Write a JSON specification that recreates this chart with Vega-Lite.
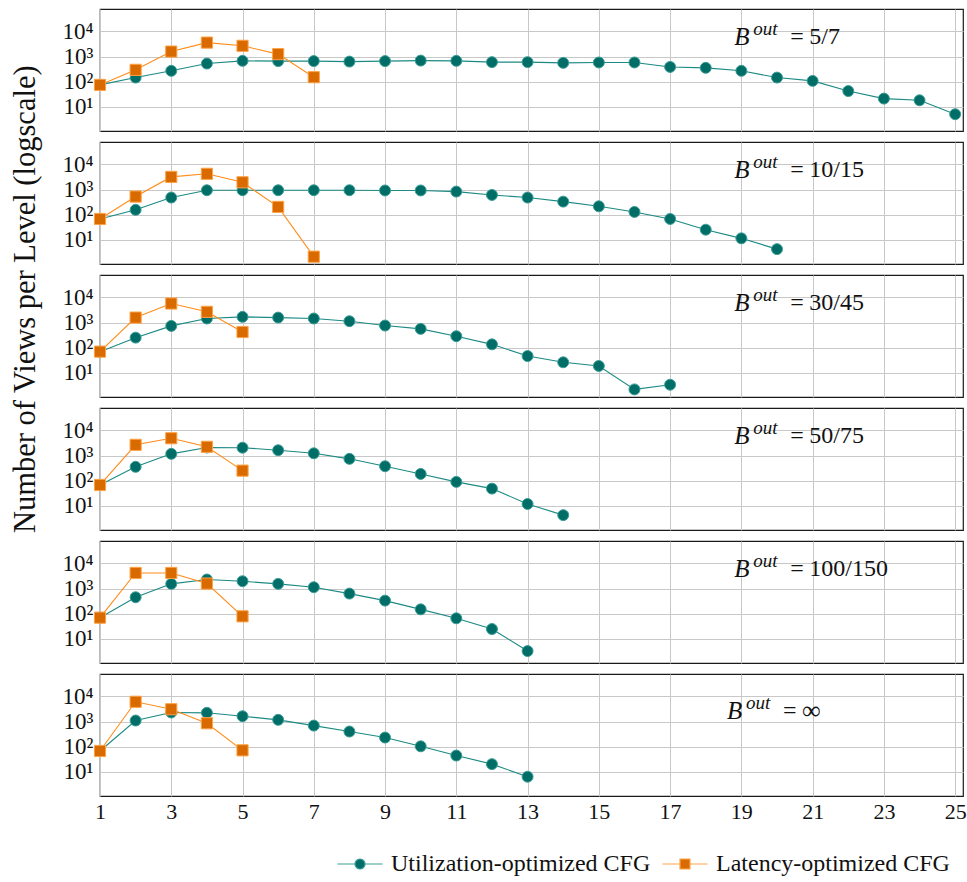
{
  "$schema": "https://vega.github.io/schema/vega-lite/v6.json",
  "padding": {"left": 11, "top": 8, "right": 4, "bottom": 4},
  "bounds": "flush",
  "title": {"text": "Number of Views per Level (logscale)", "orient": "left", "anchor": "middle", "font": "Liberation Serif", "fontSize": 30.5, "fontWeight": "normal", "color": "#111111", "offset": 20, "dx": 143},
  "datasets": {
    "views": [
      {"panel": "5/7", "series": "Utilization-optimized CFG", "level": 1, "views": 74},
      {"panel": "5/7", "series": "Utilization-optimized CFG", "level": 2, "views": 145},
      {"panel": "5/7", "series": "Utilization-optimized CFG", "level": 3, "views": 270},
      {"panel": "5/7", "series": "Utilization-optimized CFG", "level": 4, "views": 525},
      {"panel": "5/7", "series": "Utilization-optimized CFG", "level": 5, "views": 675},
      {"panel": "5/7", "series": "Utilization-optimized CFG", "level": 6, "views": 660},
      {"panel": "5/7", "series": "Utilization-optimized CFG", "level": 7, "views": 660},
      {"panel": "5/7", "series": "Utilization-optimized CFG", "level": 8, "views": 630},
      {"panel": "5/7", "series": "Utilization-optimized CFG", "level": 9, "views": 660},
      {"panel": "5/7", "series": "Utilization-optimized CFG", "level": 10, "views": 690},
      {"panel": "5/7", "series": "Utilization-optimized CFG", "level": 11, "views": 675},
      {"panel": "5/7", "series": "Utilization-optimized CFG", "level": 12, "views": 600},
      {"panel": "5/7", "series": "Utilization-optimized CFG", "level": 13, "views": 600},
      {"panel": "5/7", "series": "Utilization-optimized CFG", "level": 14, "views": 560},
      {"panel": "5/7", "series": "Utilization-optimized CFG", "level": 15, "views": 580},
      {"panel": "5/7", "series": "Utilization-optimized CFG", "level": 16, "views": 580},
      {"panel": "5/7", "series": "Utilization-optimized CFG", "level": 17, "views": 385},
      {"panel": "5/7", "series": "Utilization-optimized CFG", "level": 18, "views": 355},
      {"panel": "5/7", "series": "Utilization-optimized CFG", "level": 19, "views": 270},
      {"panel": "5/7", "series": "Utilization-optimized CFG", "level": 20, "views": 145},
      {"panel": "5/7", "series": "Utilization-optimized CFG", "level": 21, "views": 107},
      {"panel": "5/7", "series": "Utilization-optimized CFG", "level": 22, "views": 42},
      {"panel": "5/7", "series": "Utilization-optimized CFG", "level": 23, "views": 21},
      {"panel": "5/7", "series": "Utilization-optimized CFG", "level": 24, "views": 18},
      {"panel": "5/7", "series": "Utilization-optimized CFG", "level": 25, "views": 5},
      {"panel": "5/7", "series": "Latency-optimized CFG", "level": 1, "views": 74},
      {"panel": "5/7", "series": "Latency-optimized CFG", "level": 2, "views": 295},
      {"panel": "5/7", "series": "Latency-optimized CFG", "level": 3, "views": 1580},
      {"panel": "5/7", "series": "Latency-optimized CFG", "level": 4, "views": 3600},
      {"panel": "5/7", "series": "Latency-optimized CFG", "level": 5, "views": 2680},
      {"panel": "5/7", "series": "Latency-optimized CFG", "level": 6, "views": 1250},
      {"panel": "5/7", "series": "Latency-optimized CFG", "level": 7, "views": 150},

      {"panel": "10/15", "series": "Utilization-optimized CFG", "level": 1, "views": 67},
      {"panel": "10/15", "series": "Utilization-optimized CFG", "level": 2, "views": 155},
      {"panel": "10/15", "series": "Utilization-optimized CFG", "level": 3, "views": 480},
      {"panel": "10/15", "series": "Utilization-optimized CFG", "level": 4, "views": 940},
      {"panel": "10/15", "series": "Utilization-optimized CFG", "level": 5, "views": 940},
      {"panel": "10/15", "series": "Utilization-optimized CFG", "level": 6, "views": 940},
      {"panel": "10/15", "series": "Utilization-optimized CFG", "level": 7, "views": 940},
      {"panel": "10/15", "series": "Utilization-optimized CFG", "level": 8, "views": 940},
      {"panel": "10/15", "series": "Utilization-optimized CFG", "level": 9, "views": 920},
      {"panel": "10/15", "series": "Utilization-optimized CFG", "level": 10, "views": 920},
      {"panel": "10/15", "series": "Utilization-optimized CFG", "level": 11, "views": 830},
      {"panel": "10/15", "series": "Utilization-optimized CFG", "level": 12, "views": 610},
      {"panel": "10/15", "series": "Utilization-optimized CFG", "level": 13, "views": 480},
      {"panel": "10/15", "series": "Utilization-optimized CFG", "level": 14, "views": 330},
      {"panel": "10/15", "series": "Utilization-optimized CFG", "level": 15, "views": 215},
      {"panel": "10/15", "series": "Utilization-optimized CFG", "level": 16, "views": 128},
      {"panel": "10/15", "series": "Utilization-optimized CFG", "level": 17, "views": 67},
      {"panel": "10/15", "series": "Utilization-optimized CFG", "level": 18, "views": 25},
      {"panel": "10/15", "series": "Utilization-optimized CFG", "level": 19, "views": 11.3},
      {"panel": "10/15", "series": "Utilization-optimized CFG", "level": 20, "views": 4.2},
      {"panel": "10/15", "series": "Latency-optimized CFG", "level": 1, "views": 67},
      {"panel": "10/15", "series": "Latency-optimized CFG", "level": 2, "views": 525},
      {"panel": "10/15", "series": "Latency-optimized CFG", "level": 3, "views": 3200},
      {"panel": "10/15", "series": "Latency-optimized CFG", "level": 4, "views": 4250},
      {"panel": "10/15", "series": "Latency-optimized CFG", "level": 5, "views": 1950},
      {"panel": "10/15", "series": "Latency-optimized CFG", "level": 6, "views": 203},
      {"panel": "10/15", "series": "Latency-optimized CFG", "level": 7, "views": 2.1},

      {"panel": "30/45", "series": "Utilization-optimized CFG", "level": 1, "views": 69},
      {"panel": "30/45", "series": "Utilization-optimized CFG", "level": 2, "views": 250},
      {"panel": "30/45", "series": "Utilization-optimized CFG", "level": 3, "views": 735},
      {"panel": "30/45", "series": "Utilization-optimized CFG", "level": 4, "views": 1450},
      {"panel": "30/45", "series": "Utilization-optimized CFG", "level": 5, "views": 1690},
      {"panel": "30/45", "series": "Utilization-optimized CFG", "level": 6, "views": 1580},
      {"panel": "30/45", "series": "Utilization-optimized CFG", "level": 7, "views": 1450},
      {"panel": "30/45", "series": "Utilization-optimized CFG", "level": 8, "views": 1130},
      {"panel": "30/45", "series": "Utilization-optimized CFG", "level": 9, "views": 760},
      {"panel": "30/45", "series": "Utilization-optimized CFG", "level": 10, "views": 560},
      {"panel": "30/45", "series": "Utilization-optimized CFG", "level": 11, "views": 285},
      {"panel": "30/45", "series": "Utilization-optimized CFG", "level": 12, "views": 135},
      {"panel": "30/45", "series": "Utilization-optimized CFG", "level": 13, "views": 46},
      {"panel": "30/45", "series": "Utilization-optimized CFG", "level": 14, "views": 26},
      {"panel": "30/45", "series": "Utilization-optimized CFG", "level": 15, "views": 18.5},
      {"panel": "30/45", "series": "Utilization-optimized CFG", "level": 16, "views": 2.15},
      {"panel": "30/45", "series": "Utilization-optimized CFG", "level": 17, "views": 3.3},
      {"panel": "30/45", "series": "Latency-optimized CFG", "level": 1, "views": 69},
      {"panel": "30/45", "series": "Latency-optimized CFG", "level": 2, "views": 1580},
      {"panel": "30/45", "series": "Latency-optimized CFG", "level": 3, "views": 5750},
      {"panel": "30/45", "series": "Latency-optimized CFG", "level": 4, "views": 2680},
      {"panel": "30/45", "series": "Latency-optimized CFG", "level": 5, "views": 420},

      {"panel": "50/75", "series": "Utilization-optimized CFG", "level": 1, "views": 67},
      {"panel": "50/75", "series": "Utilization-optimized CFG", "level": 2, "views": 355},
      {"panel": "50/75", "series": "Utilization-optimized CFG", "level": 3, "views": 1170},
      {"panel": "50/75", "series": "Utilization-optimized CFG", "level": 4, "views": 2090},
      {"panel": "50/75", "series": "Utilization-optimized CFG", "level": 5, "views": 2060},
      {"panel": "50/75", "series": "Utilization-optimized CFG", "level": 6, "views": 1630},
      {"panel": "50/75", "series": "Utilization-optimized CFG", "level": 7, "views": 1230},
      {"panel": "50/75", "series": "Utilization-optimized CFG", "level": 8, "views": 740},
      {"panel": "50/75", "series": "Utilization-optimized CFG", "level": 9, "views": 375},
      {"panel": "50/75", "series": "Utilization-optimized CFG", "level": 10, "views": 185},
      {"panel": "50/75", "series": "Utilization-optimized CFG", "level": 11, "views": 89},
      {"panel": "50/75", "series": "Utilization-optimized CFG", "level": 12, "views": 48},
      {"panel": "50/75", "series": "Utilization-optimized CFG", "level": 13, "views": 11.7},
      {"panel": "50/75", "series": "Utilization-optimized CFG", "level": 14, "views": 4.2},
      {"panel": "50/75", "series": "Latency-optimized CFG", "level": 1, "views": 67},
      {"panel": "50/75", "series": "Latency-optimized CFG", "level": 2, "views": 2680},
      {"panel": "50/75", "series": "Latency-optimized CFG", "level": 3, "views": 4900},
      {"panel": "50/75", "series": "Latency-optimized CFG", "level": 4, "views": 2230},
      {"panel": "50/75", "series": "Latency-optimized CFG", "level": 5, "views": 250},

      {"panel": "100/150", "series": "Utilization-optimized CFG", "level": 1, "views": 69},
      {"panel": "100/150", "series": "Utilization-optimized CFG", "level": 2, "views": 450},
      {"panel": "100/150", "series": "Utilization-optimized CFG", "level": 3, "views": 1540},
      {"panel": "100/150", "series": "Utilization-optimized CFG", "level": 4, "views": 2300},
      {"panel": "100/150", "series": "Utilization-optimized CFG", "level": 5, "views": 1960},
      {"panel": "100/150", "series": "Utilization-optimized CFG", "level": 6, "views": 1540},
      {"panel": "100/150", "series": "Utilization-optimized CFG", "level": 7, "views": 1130},
      {"panel": "100/150", "series": "Utilization-optimized CFG", "level": 8, "views": 630},
      {"panel": "100/150", "series": "Utilization-optimized CFG", "level": 9, "views": 330},
      {"panel": "100/150", "series": "Utilization-optimized CFG", "level": 10, "views": 148},
      {"panel": "100/150", "series": "Utilization-optimized CFG", "level": 11, "views": 65},
      {"panel": "100/150", "series": "Utilization-optimized CFG", "level": 12, "views": 24.3},
      {"panel": "100/150", "series": "Utilization-optimized CFG", "level": 13, "views": 3.2},
      {"panel": "100/150", "series": "Latency-optimized CFG", "level": 1, "views": 69},
      {"panel": "100/150", "series": "Latency-optimized CFG", "level": 2, "views": 4200},
      {"panel": "100/150", "series": "Latency-optimized CFG", "level": 3, "views": 4200},
      {"panel": "100/150", "series": "Latency-optimized CFG", "level": 4, "views": 1580},
      {"panel": "100/150", "series": "Latency-optimized CFG", "level": 5, "views": 78},

      {"panel": "∞", "series": "Utilization-optimized CFG", "level": 1, "views": 67},
      {"panel": "∞", "series": "Utilization-optimized CFG", "level": 2, "views": 1100},
      {"panel": "∞", "series": "Utilization-optimized CFG", "level": 3, "views": 2300},
      {"panel": "∞", "series": "Utilization-optimized CFG", "level": 4, "views": 2230},
      {"panel": "∞", "series": "Utilization-optimized CFG", "level": 5, "views": 1630},
      {"panel": "∞", "series": "Utilization-optimized CFG", "level": 6, "views": 1170},
      {"panel": "∞", "series": "Utilization-optimized CFG", "level": 7, "views": 690},
      {"panel": "∞", "series": "Utilization-optimized CFG", "level": 8, "views": 400},
      {"panel": "∞", "series": "Utilization-optimized CFG", "level": 9, "views": 230},
      {"panel": "∞", "series": "Utilization-optimized CFG", "level": 10, "views": 103},
      {"panel": "∞", "series": "Utilization-optimized CFG", "level": 11, "views": 44},
      {"panel": "∞", "series": "Utilization-optimized CFG", "level": 12, "views": 20},
      {"panel": "∞", "series": "Utilization-optimized CFG", "level": 13, "views": 6.3},
      {"panel": "∞", "series": "Latency-optimized CFG", "level": 1, "views": 67},
      {"panel": "∞", "series": "Latency-optimized CFG", "level": 2, "views": 6150},
      {"panel": "∞", "series": "Latency-optimized CFG", "level": 3, "views": 3100},
      {"panel": "∞", "series": "Latency-optimized CFG", "level": 4, "views": 855},
      {"panel": "∞", "series": "Latency-optimized CFG", "level": 5, "views": 71}
    ]
  },
  "data": {"name": "views"},
  "facet": {
    "row": {"field": "panel", "type": "nominal", "sort": ["5/7", "10/15", "30/45", "50/75", "100/150", "∞"], "header": null}
  },
  "spacing": {"row": 11},
  "spec": {
    "width": 863,
    "height": 122,
    "encoding": {
      "x": {
        "field": "level", "type": "quantitative",
        "scale": {"domain": [1, 25.22], "nice": false, "zero": false},
        "axis": {"title": null, "values": [1, 3, 5, 7, 9, 11, 13, 15, 17, 19, 21, 23, 25], "format": "d", "labelPadding": 5, "labelFlush": false, "labelFontSize": 22}
      },
      "y": {
        "field": "views", "type": "quantitative",
        "scale": {"type": "log", "domain": [1.07, 79000], "nice": false},
        "axis": {"title": null, "values": [10, 100, 1000, 10000], "labelPadding": 7,
                 "labelExpr": "'10' + (datum.value < 50 ? '¹' : datum.value < 500 ? '²' : datum.value < 5000 ? '³' : '⁴')"}
      }
    },
    "layer": [
      {
        "transform": [{"filter": "datum.series == 'Utilization-optimized CFG'"}],
        "mark": {"type": "line", "color": "#1b8a84", "strokeWidth": 1.1}
      },
      {
        "transform": [{"filter": "datum.series == 'Utilization-optimized CFG'"}],
        "mark": {"type": "point", "shape": "circle", "filled": true, "size": 120, "fill": "#006d66", "stroke": "#3a9d97", "strokeWidth": 1, "opacity": 1}
      },
      {
        "transform": [{"filter": "datum.series == 'Latency-optimized CFG'"}],
        "mark": {"type": "line", "color": "#ff8c1a", "strokeWidth": 1.1}
      },
      {
        "transform": [{"filter": "datum.series == 'Latency-optimized CFG'"}],
        "mark": {"type": "point", "shape": "square", "filled": true, "size": 125, "fill": "#d96a00", "stroke": "#ffa347", "strokeWidth": 1, "opacity": 1}
      },
      {
        "transform": [{"filter": "false"}],
        "mark": {"type": "point", "filled": true, "opacity": 1},
        "encoding": {
          "color": {"field": "series", "type": "nominal",
                    "scale": {"domain": ["Utilization-optimized CFG", "Latency-optimized CFG"], "range": ["#006d66", "#d96a00"]},
                    "legend": {"title": null}},
          "stroke": {"field": "series", "type": "nominal",
                    "scale": {"domain": ["Utilization-optimized CFG", "Latency-optimized CFG"], "range": ["#3a9d97", "#ffa347"]},
                    "legend": {"title": null}},
          "shape": {"field": "series", "type": "nominal",
                    "scale": {"domain": ["Utilization-optimized CFG", "Latency-optimized CFG"],
                              "range": ["M-4.5,0H-1M1,0H4.5M-1,0A1,1,0,1,0,1,0A1,1,0,1,0,-1,0Z", "M-4.5,0H-1M1,0H4.5M-1,-1H1V1H-1Z"]},
                    "legend": {"title": null}}
        }
      },
      {
        "transform": [{"filter": "datum.level == 1 && datum.series == 'Utilization-optimized CFG' && datum.panel != '∞'"}],
        "mark": {"type": "text", "text": "B", "fontStyle": "italic", "font": "Liberation Serif", "fontSize": 25, "align": "left", "baseline": "middle", "color": "#111111"},
        "encoding": {"x": {"datum": 18.8}, "y": {"datum": 6300}}
      },
      {
        "transform": [{"filter": "datum.level == 1 && datum.series == 'Utilization-optimized CFG' && datum.panel != '∞'"}],
        "mark": {"type": "text", "text": "out", "fontStyle": "italic", "font": "Liberation Serif", "fontSize": 19, "align": "left", "baseline": "middle", "dx": 19, "dy": -8, "color": "#111111"},
        "encoding": {"x": {"datum": 18.8}, "y": {"datum": 6300}}
      },
      {
        "transform": [{"filter": "datum.level == 1 && datum.series == 'Utilization-optimized CFG' && datum.panel != '∞'"}],
        "mark": {"type": "text", "text": "=", "font": "Liberation Serif", "fontSize": 24, "align": "left", "baseline": "middle", "dx": 56, "color": "#111111"},
        "encoding": {"x": {"datum": 18.8}, "y": {"datum": 6300}}
      },
      {
        "transform": [{"filter": "datum.level == 1 && datum.series == 'Utilization-optimized CFG' && datum.panel != '∞'"}],
        "mark": {"type": "text", "font": "Liberation Serif", "fontSize": 24, "align": "left", "baseline": "middle", "dx": 75, "color": "#111111"},
        "encoding": {"x": {"datum": 18.8}, "y": {"datum": 6300}, "text": {"field": "panel"}}
      },
      {
        "transform": [{"filter": "datum.level == 1 && datum.series == 'Utilization-optimized CFG' && datum.panel == '∞'"}],
        "mark": {"type": "text", "text": "B", "fontStyle": "italic", "font": "Liberation Serif", "fontSize": 25, "align": "left", "baseline": "middle", "color": "#111111"},
        "encoding": {"x": {"datum": 18.6}, "y": {"datum": 2600}}
      },
      {
        "transform": [{"filter": "datum.level == 1 && datum.series == 'Utilization-optimized CFG' && datum.panel == '∞'"}],
        "mark": {"type": "text", "text": "out", "fontStyle": "italic", "font": "Liberation Serif", "fontSize": 19, "align": "left", "baseline": "middle", "dx": 19, "dy": -8, "color": "#111111"},
        "encoding": {"x": {"datum": 18.6}, "y": {"datum": 2600}}
      },
      {
        "transform": [{"filter": "datum.level == 1 && datum.series == 'Utilization-optimized CFG' && datum.panel == '∞'"}],
        "mark": {"type": "text", "text": "=", "font": "Liberation Serif", "fontSize": 24, "align": "left", "baseline": "middle", "dx": 56, "color": "#111111"},
        "encoding": {"x": {"datum": 18.6}, "y": {"datum": 2600}}
      },
      {
        "transform": [{"filter": "datum.level == 1 && datum.series == 'Utilization-optimized CFG' && datum.panel == '∞'"}],
        "mark": {"type": "text", "font": "Liberation Serif", "fontSize": 26, "align": "left", "baseline": "middle", "dx": 75, "color": "#111111"},
        "encoding": {"x": {"datum": 18.6}, "y": {"datum": 2600}, "text": {"field": "panel"}}
      }
    ]
  },
  "config": {
    "font": "Liberation Serif",
    "view": {"stroke": "#1a1a1a", "strokeWidth": 1.2},
    "axis": {"labelFont": "Liberation Serif", "labelFontSize": 23, "labelColor": "#111111", "gridColor": "#c8c8c8", "gridWidth": 1, "domain": false, "ticks": false},
    "legend": {"orient": "none", "legendX": 248, "legendY": 843, "direction": "horizontal", "labelFont": "Liberation Serif", "labelFontSize": 24, "labelColor": "#111111", "labelLimit": 0, "symbolSize": 100, "symbolStrokeWidth": 1.2, "labelOffset": 19, "columnPadding": 9}
  }
}
